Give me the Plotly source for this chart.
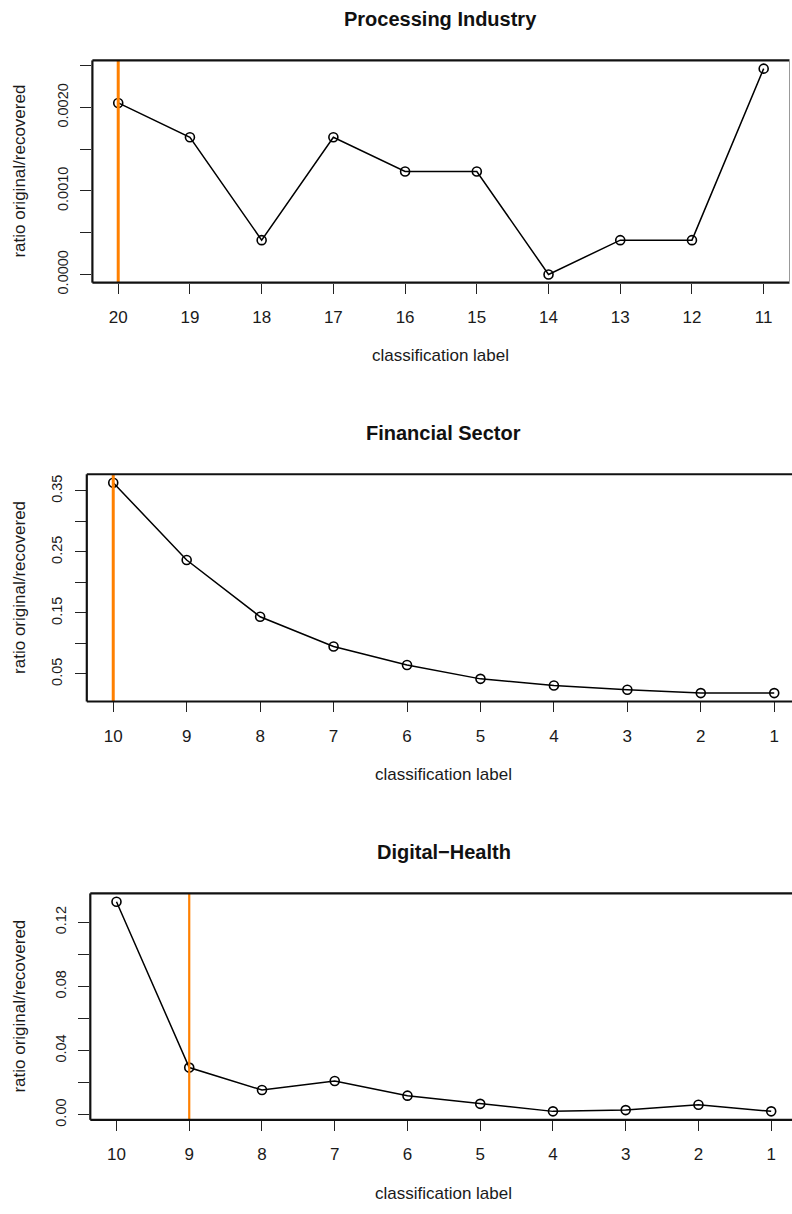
import plotly.graph_objects as go

# ---- data -------------------------------------------------------------
titles = ["Processing Industry", "Financial Sector", "Digital\u2212Health"]

labels_processing = [20, 19, 18, 17, 16, 15, 14, 13, 12, 11]
ratio_processing = [0.002055, 0.001644, 0.000411, 0.001644, 0.001233,
                    0.001233, 0.0, 0.000411, 0.000411, 0.002466]

labels_financial = [10, 9, 8, 7, 6, 5, 4, 3, 2, 1]
ratio_financial = [0.3635, 0.2368, 0.1437, 0.0950, 0.0647,
                   0.0419, 0.0311, 0.0241, 0.0186, 0.0186]

labels_health = [10, 9, 8, 7, 6, 5, 4, 3, 2, 1]
ratio_health = [0.1328, 0.0294, 0.0154, 0.0210, 0.0119,
                0.0068, 0.0021, 0.0029, 0.0062, 0.0021]

cutoff_labels = [20, 10, 9]

ytick_vals = [
    [0.0, 0.0005, 0.0010, 0.0015, 0.0020, 0.0025],
    [0.05, 0.10, 0.15, 0.20, 0.25, 0.30, 0.35],
    [0.00, 0.02, 0.04, 0.06, 0.08, 0.10, 0.12],
]
ytick_text = [
    ["0.0000", "", "0.0010", "", "0.0020", ""],
    ["0.05", "", "0.15", "", "0.25", "", "0.35"],
    ["0.00", "", "0.04", "", "0.08", "", "0.12"],
]

x_label = "classification label"
y_label = "ratio original/recovered"

# ---- layout geometry (pixels) ----------------------------------------
W, H = 792, 1214
FONT = "Liberation Sans, Arial, Helvetica, sans-serif"
INK = "#1a1a1a"
ORANGE = "#FF8000"

panels = [
    dict(labels=labels_processing, values=ratio_processing,
         left=92.4, right=789.5, top=61.0, bottom=285.5,
         xrange=[20.36, 10.64], yrange=[-0.0000986, 0.0025646],
         title_x=441.0, cut_w=3.0, right_border=True),
    dict(labels=labels_financial, values=ratio_financial,
         left=86.8, right=792.0, top=479.0, bottom=708.5,
         xrange=[10.36, 0.758], yrange=[0.0048, 0.3773],
         title_x=444.0, cut_w=3.0, right_border=False),
    dict(labels=labels_health, values=ratio_health,
         left=90.3, right=792.0, top=902.3, bottom=1131.0,
         xrange=[10.36, 0.714], yrange=[-0.00317, 0.13803],
         title_x=444.0, cut_w=2.2, right_border=False),
]


def py(v):
    """pixel row -> paper y"""
    return 1 - v / H


fig = go.Figure()
shapes, annotations = [], []

for i, p in enumerate(panels):
    n = "" if i == 0 else str(i + 1)
    xa, ya = "x" + n, "y" + n

    fig.add_trace(go.Scatter(
        x=p["labels"], y=p["values"], xaxis=xa, yaxis=ya,
        mode="lines+markers",
        line=dict(color="black", width=1.5),
        marker=dict(symbol="circle-open", size=9, color="black",
                    line=dict(width=1.6)),
        showlegend=False, hoverinfo="x+y", cliponaxis=False,
    ))

    tick_font = dict(family=FONT, size=17, color=INK)
    fig.update_layout(**{
        "xaxis" + n: dict(
            domain=[p["left"] / W, p["right"] / W], range=p["xrange"],
            anchor=ya, tickmode="array", tickvals=p["labels"],
            ticktext=[str(v) for v in p["labels"]],
            ticks="outside", ticklen=10, tickwidth=1.2, tickcolor="#222",
            tickfont=tick_font, ticklabelstandoff=9,
            showgrid=False, zeroline=False, showline=False,
        ),
        "yaxis" + n: dict(
            domain=[py(p["bottom"]), py(p["top"])], range=p["yrange"],
            anchor=xa, tickmode="array", tickvals=ytick_vals[i],
            ticktext=ytick_text[i], tickangle=-90,
            ticks="outside", ticklen=11, tickwidth=1.2, tickcolor="#222",
            tickfont=dict(family=FONT, size=14.5, color=INK),
            ticklabelstandoff=7,
            showgrid=False, zeroline=False, showline=False,
        ),
    })

    # cut-off marker
    shapes.append(dict(
        type="line", xref=xa, yref=ya + " domain",
        x0=cutoff_labels[i], x1=cutoff_labels[i], y0=0, y1=1,
        line=dict(color=ORANGE, width=p["cut_w"]), layer="above",
    ))

    # plot frame
    frame = dict(color="#111", width=2.2)
    dx, dy = xa + " domain", ya + " domain"
    shapes.append(dict(type="line", xref=dx, yref=dy, x0=0, x1=1, y0=1, y1=1,
                       line=frame))
    shapes.append(dict(type="line", xref=dx, yref=dy, x0=0, x1=1, y0=0, y1=0,
                       line=frame))
    shapes.append(dict(type="line", xref=dx, yref=dy, x0=0, x1=0, y0=0, y1=1,
                       line=frame))
    if p["right_border"]:
        shapes.append(dict(type="line", xref=dx, yref=dy, x0=1, x1=1,
                           y0=0, y1=1, line=dict(color="#999", width=1)))

    # titles and axis labels
    annotations.append(dict(
        text=titles[i], x=p["title_x"] / W, y=py(p["top"] - 41.5),
        xref="paper", yref="paper", xanchor="center", yanchor="middle",
        showarrow=False,
        font=dict(family=FONT, size=20, color="#111", weight="bold"),
    ))
    annotations.append(dict(
        text=x_label, x=p["title_x"] / W, y=py(p["bottom"] + 74),
        xref="paper", yref="paper", xanchor="center", yanchor="middle",
        showarrow=False, font=dict(family=FONT, size=17, color=INK),
    ))
    annotations.append(dict(
        text=y_label, x=20 / W, y=py((p["top"] + p["bottom"]) / 2),
        xref="paper", yref="paper", xanchor="center", yanchor="middle",
        textangle=-90, showarrow=False,
        font=dict(family=FONT, size=17, color=INK),
    ))

fig.update_layout(
    width=W, height=H,
    margin=dict(l=0, r=0, t=0, b=0),
    paper_bgcolor="white", plot_bgcolor="white",
    shapes=shapes, annotations=annotations,
)

fig.write_html("out.html", config={"displayModeBar": False})
